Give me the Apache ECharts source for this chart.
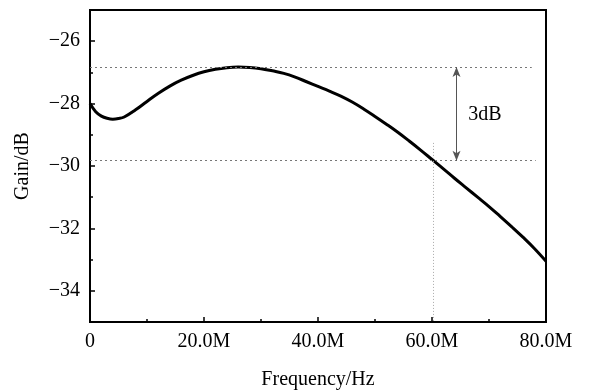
<!DOCTYPE html>
<html>
<head>
<meta charset="utf-8">
<script src="https://cdn.jsdelivr.net/npm/echarts@6/dist/echarts.min.js"></script>
<style>
  html, body { margin: 0; padding: 0; background: #fff; }
  #chart { width: 592px; height: 390px; }
</style>
</head>
<body>
<div id="chart"></div>
<script>
// frequency in MHz, gain in dB
var freq = [0, 1, 2, 3, 4, 5, 6, 8, 10, 12, 14, 16, 18, 20, 22, 24, 26, 28, 30, 32, 34, 36, 38, 40,
            42, 44, 46, 48, 50, 52, 54, 56, 58, 60, 62, 64, 66, 68, 70, 72, 74, 76, 78, 80];
var gain = [-28.0, -28.26, -28.4, -28.47, -28.5, -28.48, -28.43, -28.2, -27.93, -27.67, -27.44,
            -27.25, -27.1, -26.98, -26.9, -26.85, -26.83, -26.84, -26.88, -26.95, -27.03, -27.15, -27.3,
            -27.45, -27.6, -27.76, -27.95, -28.17, -28.41, -28.66, -28.92, -29.2, -29.49, -29.79, -30.09,
            -30.4, -30.7, -31.0, -31.3, -31.62, -31.95, -32.29, -32.65, -33.05];
var yTicks = [-34, -32, -30, -28, -26];
var yMinor = [-35, -33, -31, -29, -27, -25];
// 3dB annotation
var peakLevel = -26.83;
var cutLevel = -29.83;
var cutFreq = 60.3;
var arrowFreq = 64.3;

var pts = [];
for (var i = 0; i < freq.length; i++) pts.push([freq[i], gain[i]]);

var font = '"Liberation Serif", "DejaVu Serif", serif';

var chart = echarts.init(document.getElementById('chart'));
chart.setOption({
    animation: false,
    grid: {
        left: 90, right: 46, top: 10, bottom: 68,
        outerBoundsMode: 'none',
        show: true, borderColor: '#000', borderWidth: 2
    },
    xAxis: {
        type: 'value', min: 0, max: 80, interval: 20,
        name: 'Frequency/Hz', nameLocation: 'middle', nameGap: 48,
        nameTextStyle: { fontFamily: font, fontSize: 20, color: '#000' },
        axisLine: { lineStyle: { color: '#000', width: 2 } },
        axisTick: { inside: true, length: 5, lineStyle: { color: '#000', width: 1.5 } },
        minorTick: { show: true, splitNumber: 2, length: 3, lineStyle: { color: '#000', width: 1.5 } },
        splitLine: { show: false },
        axisLabel: {
            fontFamily: font, fontSize: 20, color: '#000', margin: 10,
            formatter: function (v) { return v === 0 ? '0' : v.toFixed(1) + 'M'; }
        }
    },
    yAxis: [
        {
            type: 'value', min: -35, max: -25,
            name: 'Gain/dB', nameLocation: 'middle', nameGap: 57,
            nameTextStyle: { fontFamily: font, fontSize: 20, color: '#000' },
            axisLine: { show: true, lineStyle: { color: '#000', width: 2 } },
            axisTick: { inside: true, length: 5, customValues: yTicks, lineStyle: { color: '#000', width: 1.5 } },
            splitLine: { show: false },
            axisLabel: {
                fontFamily: font, fontSize: 20, color: '#000', margin: 10,
                customValues: yTicks,
                formatter: function (v) { return String(v).replace('-', '\u2212'); }
            }
        },
        {
            type: 'value', min: -35, max: -25, position: 'left',
            axisLine: { show: false },
            axisTick: { show: true, inside: true, length: 3, customValues: yMinor, lineStyle: { color: '#000', width: 1.5 } },
            axisLabel: { show: false },
            splitLine: { show: false }
        }
    ],
    series: [
        {
            type: 'line', data: pts, smooth: 0.4, symbol: 'none',
            lineStyle: { color: '#000', width: 3 },
            z: 3,
            markLine: {
                silent: true, symbol: 'none',
                label: { show: false },
                lineStyle: { color: '#777', width: 1, type: [2, 3] },
                data: [
                    [{ coord: [0, peakLevel] }, { coord: [77.5, peakLevel] }],
                    [{ coord: [0, cutLevel] }, { coord: [78.2, cutLevel] }],
                    [{ coord: [cutFreq, -29.26], lineStyle: { color: '#aaa', type: [1, 2] } }, { coord: [cutFreq, -35] }]
                ]
            }
        },
        {
            type: 'line', data: [], symbol: 'none',
            markLine: {
                silent: true, symbol: ['arrow', 'arrow'], symbolSize: [6, 10],
                label: { show: false },
                lineStyle: { color: '#555', width: 1, type: 'solid' },
                itemStyle: { color: '#000' },
                data: [[{ coord: [arrowFreq, peakLevel] }, { coord: [arrowFreq, cutLevel] }]]
            },
            markPoint: {
                silent: true, symbol: 'circle', symbolSize: 0,
                label: {
                    show: true, position: 'inside', formatter: '3dB',
                    fontFamily: font, fontSize: 20, color: '#000'
                },
                data: [{ coord: [69.3, -28.37] }]
            }
        }
    ]
});
</script>
</body>
</html>
